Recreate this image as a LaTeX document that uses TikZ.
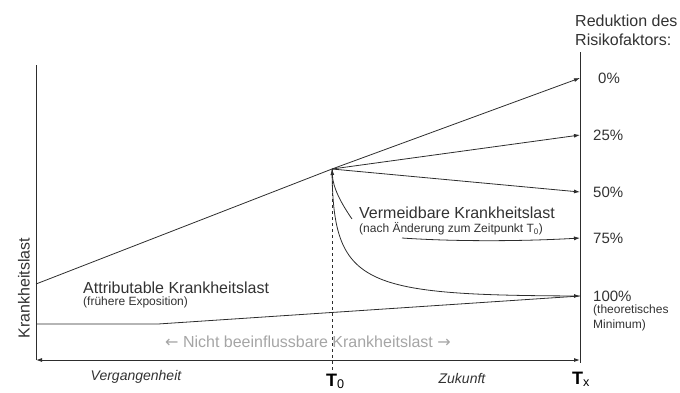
\documentclass[tikz,border=0pt]{standalone}
\usepackage{fontspec}
\setmainfont{Liberation Sans}
\newfontfamily\arrowfont{DejaVu Sans}
\usetikzlibrary{arrows.meta, positioning, calc}
\definecolor{cLine}{RGB}{45,45,45}
\definecolor{cText}{RGB}{50,50,50}
\definecolor{cGrey}{RGB}{165,165,165}
\tikzset{
	axisline/.style={draw=cLine, line width=0.9pt},
	burden/.style={draw=cLine, line width=0.8pt},
	burdenarrow/.style={burden, -{Latex[length=6pt, width=4pt]}},
	bigtxt/.style={font=\fontsize{16}{19}\selectfont, text=cText, inner sep=0pt},
	smalltxt/.style={font=\fontsize{12}{15}\selectfont, text=cText, inner sep=0pt},
	pcttxt/.style={font=\fontsize{15}{17}\selectfont, text=cText, inner sep=0pt, anchor=west},
	timetxt/.style={font=\fontsize{14}{16}\selectfont\itshape, text=cText, inner sep=0pt},
	tlabel/.style={font=\fontsize{18}{18}\selectfont, text=black, inner sep=0pt, anchor=base west},
}
\begin{document}
\begin{tikzpicture}[x=1pt, y=-1pt]
	\useasboundingbox (0,0) rectangle (680,392);
	% axes
	\coordinate (ytop) at (36,65);
	\coordinate (origin) at (36,360);
	\coordinate (tx) at (580,360);
	\coordinate (txtop) at (580,52);
	\coordinate (txlow) at (580,363);
	\coordinate (t0) at (332,169);
	\coordinate (t0low) at (332,373);
	% burden lines
	\coordinate (start) at (36,284);
	\coordinate (base) at (36,324);
	\coordinate (kink) at (158,324);
	\coordinate (r0) at (580,78);
	\coordinate (r25) at (580,135);
	\coordinate (r50) at (580,192);
	\coordinate (r75) at (580,238);
	\coordinate (r100) at (580,296);
	\coordinate (avoid) at (402,238);
	\coordinate (hint) at (352,219);

	\draw[axisline] (ytop) -- (origin);
	\draw[axisline] (txtop) -- (txlow);
	\draw[axisline, {Latex[length=6pt, width=4pt]}-{Latex[length=6pt, width=4pt]}] (origin) -- (tx);
	\draw[burden, dashed] (t0) -- (t0low);

	\draw[burden] (start) -- (t0);
	\draw[burdenarrow] (t0) -- (r0);
	\draw[burdenarrow] (t0) -- (r25);
	\draw[burdenarrow] (t0) -- (r50);
	\draw[burdenarrow] (avoid) .. controls (460,242) and (530,241) .. (r75);
	\draw[burdenarrow] (t0) .. controls (333,285) and (360,295) .. (r100);
	\draw[burden] (base) -- (kink) -- (r100);
	\draw[burdenarrow] (hint) .. controls (341,203) and (333,188) .. (t0);

	% labels on the right axis
	\node[bigtxt, align=left, anchor=west] (reduktion) at (575,30) {Reduktion des\\Risikofaktors:};
	\node[pcttxt, right=18pt of r0] (p0) {0\%};
	\node[pcttxt, right=13pt of r25] (p25) {25\%};
	\node[pcttxt, right=13pt of r50] (p50) {50\%};
	\node[pcttxt, right=13pt of r75] (p75) {75\%};
	\node[pcttxt, right=13pt of r100] (p100) {100\%};
	\node[smalltxt, align=left, below=3pt of p100.south west, anchor=north west] (minimum) {(theoretisches\\Minimum)};

	% areas
	\node[bigtxt, anchor=west] (attrib) at (83,288) {Attributable Krankheitslast};
	\node[smalltxt, below=3pt of attrib.south west, anchor=north west] (frueher) {(frühere Exposition)};
	\node[bigtxt, anchor=west] (vermeid) at (359,213) {Vermeidbare Krankheitslast};
	\node[smalltxt, below=3pt of vermeid.south west, anchor=north west] (nach) {(nach Änderung zum Zeitpunkt T\textsubscript{0})};
	\node[bigtxt, text=cGrey] (nicht) at (308,342) {{\arrowfont ←} Nicht beeinflussbare Krankheitslast {\arrowfont →}};
	\node[bigtxt, rotate=90] (ylabel) at (24,288) {Krankheitslast};

	% time axis
	\node[timetxt] (vergangen) at (136,377) {Vergangenheit};
	\node[timetxt] (zukunft) at (462,378) {Zukunft};
	\node[tlabel] (tnull) at (326,386) {\textbf{T}\textsubscript{0}};
	\node[tlabel] (tixs) at (572,384) {\textbf{T}\textsubscript{x}};
\end{tikzpicture}
\end{document}
